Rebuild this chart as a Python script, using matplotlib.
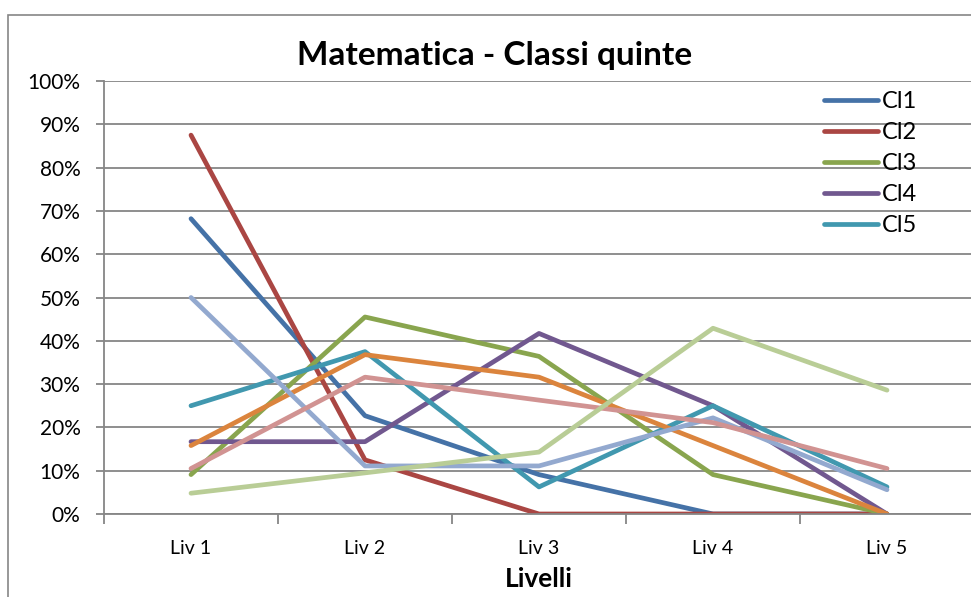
import numpy as np
import matplotlib.pyplot as plt
from matplotlib.patches import Rectangle
from matplotlib.ticker import PercentFormatter

plt.rcParams['font.family'] = ['Lato', 'DejaVu Sans']

livelli = ['Liv 1', 'Liv 2', 'Liv 3', 'Liv 4', 'Liv 5']
nomi = ['Cl1', 'Cl2', 'Cl3', 'Cl4', 'Cl5', 'Cl6', 'Cl7', 'Cl8', 'Cl9']

# percentuali per classe
cl1 = [68.2, 22.7, 9.1, 0, 0]
cl2 = [87.5, 12.5, 0, 0, 0]
cl3 = [9.1, 45.5, 36.4, 9.1, 0]
cl4 = [16.7, 16.7, 41.7, 25.0, 0]
cl5 = [25.0, 37.5, 6.25, 25.0, 6.25]
cl6 = [15.8, 36.8, 31.6, 15.8, 0]
cl7 = [50.0, 11.1, 11.1, 22.2, 5.6]
cl8 = [10.5, 31.6, 26.3, 21.1, 10.5]
cl9 = [4.8, 9.5, 14.3, 42.9, 28.6]
serie = [cl1, cl2, cl3, cl4, cl5, cl6, cl7, cl8, cl9]

colori = ['#4572A7', '#AA4643', '#89A54E', '#71588F', '#4198AF',
          '#DB843D', '#93A9CF', '#D19392', '#B9CD96']

fig = plt.figure(figsize=(9.71, 5.97), dpi=100)
ax = fig.add_axes([104/971, 1-514/597, 870/971, 433/597])

# bordo del grafico (tagliato a destra e in basso)
fig.patches.append(Rectangle((8/971, -0.05), 1.2, 1 - 15/597 + 0.05,
                             transform=fig.transFigure, fill=False,
                             edgecolor='#868686', lw=1.2))

x = np.arange(len(livelli))
linee = []
for val, col, nome in zip(serie, colori, nomi):
    l, = ax.plot(x, val, color=col, lw=3.4, solid_capstyle='round',
                 solid_joinstyle='round', label=nome)
    linee.append(l)

ax.set_xlim(-0.5, 4.5)
ax.set_ylim(0, 100)
ax.set_yticks(np.arange(0, 101, 10))
ax.yaxis.set_major_formatter(PercentFormatter(decimals=0))
ax.grid(axis='y', color='#868686', lw=1.3)
ax.set_axisbelow(True)

ax.set_xticks(x)
ax.set_xticklabels(livelli)
ax.set_xticks(np.arange(-0.5, 5, 1), minor=True)
ax.tick_params(axis='x', which='major', length=0, pad=19, labelsize=14)
ax.tick_params(axis='x', which='minor', length=7, color='#868686', width=1.3)
ax.tick_params(axis='y', length=6, color='#868686', width=1.3, labelsize=15, pad=11)

for s in ['top', 'right']:
    ax.spines[s].set_visible(False)
for s in ['left', 'bottom']:
    ax.spines[s].set_color('#868686')
    ax.spines[s].set_linewidth(1.3)

ax.set_xlabel('Livelli', fontsize=19, fontweight='bold', labelpad=7)
fig.text(495/971, 1-55/597, 'Matematica - Classi quinte', ha='center', va='center',
         fontsize=24, fontweight='bold')

ax.legend(handles=linee[:5], loc='upper left', bbox_to_anchor=(812/971, 1-79/597),
          bbox_transform=fig.transFigure, frameon=False, fontsize=17,
          handlelength=2.3, handletextpad=0.15, labelspacing=0.43, borderpad=0)

fig.savefig('out.png', dpi=100)
